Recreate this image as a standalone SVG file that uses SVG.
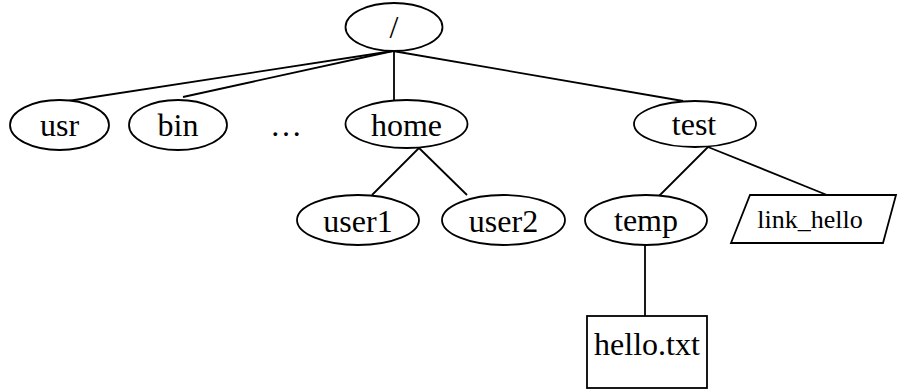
<svg xmlns="http://www.w3.org/2000/svg" width="898" height="389" viewBox="0 0 898 389">
<style>
.n{fill:#fff;stroke:#000;stroke-width:1.8}
.t{font-family:"Liberation Serif",serif;font-size:32px;fill:#000;text-anchor:middle}
.s{font-size:26px}
#edges line{stroke:#000;stroke-width:1.8}
</style>
<rect width="898" height="389" fill="#fff"/>
<g id="edges">
<line x1="393" y1="51" x2="68" y2="101"/>
<line x1="393" y1="51" x2="183" y2="97"/>
<line x1="394" y1="51" x2="394" y2="100"/>
<line x1="393" y1="51" x2="683" y2="101"/>
<line x1="419" y1="148" x2="372" y2="195"/>
<line x1="419" y1="148" x2="467" y2="195"/>
<line x1="708" y1="147" x2="659" y2="196"/>
<line x1="708" y1="147" x2="827" y2="195"/>
<line x1="645" y1="245" x2="645" y2="316"/>
</g>
<g id="root"><ellipse class="n" cx="394" cy="27" rx="48.5" ry="24"/><text class="t" x="394" y="38">/</text></g>
<g id="usr"><ellipse class="n" cx="59.5" cy="125" rx="49.5" ry="25"/><text class="t" x="59.5" y="136">usr</text></g>
<g id="bin"><ellipse class="n" cx="178" cy="125" rx="49" ry="25"/><text class="t" x="178" y="136">bin</text></g>
<g id="dots"><text class="t" x="286" y="136">…</text></g>
<g id="home"><ellipse class="n" cx="406.5" cy="124" rx="61" ry="24"/><text class="t" x="406.5" y="136">home</text></g>
<g id="test"><ellipse class="n" cx="695" cy="124" rx="61" ry="23"/><text class="t" x="694" y="135">test</text></g>
<g id="user1"><ellipse class="n" cx="358" cy="220" rx="61" ry="25"/><text class="t" x="358" y="232">user1</text></g>
<g id="user2"><ellipse class="n" cx="503.5" cy="220" rx="61.5" ry="25"/><text class="t" x="503.5" y="232">user2</text></g>
<g id="temp"><ellipse class="n" cx="646" cy="220" rx="61" ry="25"/><text class="t" x="646" y="231">temp</text></g>
<g id="link_hello"><polygon class="n" points="750,195 896,195 883,243 731,243"/><text class="t s" x="810" y="228">link_hello</text></g>
<g id="hello"><rect class="n" x="587" y="316" width="120" height="72"/><text class="t" x="647" y="355">hello.txt</text></g>
</svg>
